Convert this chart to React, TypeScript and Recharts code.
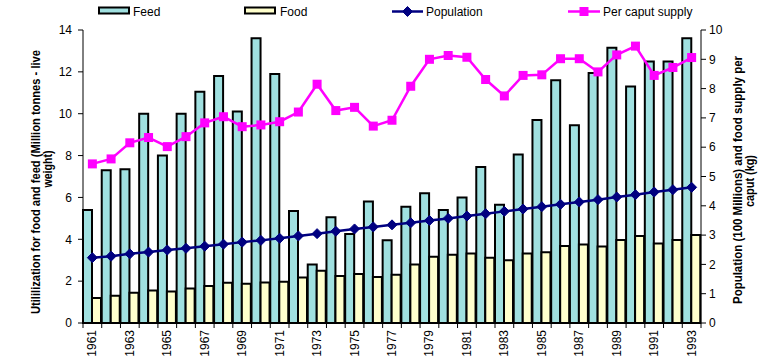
import React from 'react';
import { Bar, ComposedChart, Line, XAxis, YAxis } from 'recharts';

const years = [
  '1961', '1962', '1963', '1964', '1965', '1966', '1967', '1968', '1969', '1970', '1971',
  '1972', '1973', '1974', '1975', '1976', '1977', '1978', '1979', '1980', '1981', '1982',
  '1983', '1984', '1985', '1986', '1987', '1988', '1989', '1990', '1991', '1992', '1993',
];

// million tonnes, left axis
const feed = [
  5.4, 7.3, 7.35, 10.0, 8.0, 10.0, 11.05, 11.8, 10.1, 13.6, 11.9,
  5.35, 2.8, 5.05, 4.25, 5.8, 3.95, 5.55, 6.2, 5.4, 6.0, 7.45,
  5.65, 8.05, 9.7, 11.6, 9.45, 11.95, 13.15, 11.3, 12.5, 12.5, 13.6,
];
const food = [
  1.2, 1.3, 1.45, 1.55, 1.5, 1.65, 1.77, 1.92, 1.88, 1.93, 1.97,
  2.17, 2.5, 2.25, 2.34, 2.2, 2.3, 2.8, 3.17, 3.26, 3.32, 3.12,
  3.0, 3.32, 3.38, 3.68, 3.75, 3.65, 3.97, 4.16, 3.8, 3.97, 4.2,
];

// right axis
const population = [
  2.23, 2.28, 2.36, 2.42, 2.49, 2.55, 2.62, 2.69, 2.76, 2.82, 2.89,
  2.97, 3.05, 3.13, 3.21, 3.28, 3.35, 3.42, 3.5, 3.57, 3.65, 3.73,
  3.81, 3.89, 3.97, 4.05, 4.13, 4.21, 4.3, 4.38, 4.47, 4.55, 4.63,
];
const perCaput = [
  5.43, 5.6, 6.15, 6.33, 6.02, 6.36, 6.83, 7.04, 6.7, 6.76, 6.87,
  7.2, 8.15, 7.25, 7.36, 6.72, 6.92, 8.08, 9.0, 9.13, 9.07, 8.31,
  7.75, 8.45, 8.47, 9.02, 9.02, 8.57, 9.15, 9.45, 8.45, 8.72, 9.06,
];

const leftTicks = [0, 2, 4, 6, 8, 10, 12, 14];
const rightTicks = [0, 1, 2, 3, 4, 5, 6, 7, 8, 9, 10];

const data = years.map((year, i) => ({
  year,
  feed: feed[i],
  food: food[i],
  population: population[i],
  perCaput: perCaput[i],
}));

const W = 759;
const H = 364;
const LEFT_W = 83;
const RIGHT_W = 58;
const TOP = 30;
const X_H = 41;
const FONT = "'Liberation Sans', Arial, sans-serif";

const half = (W - LEFT_W - RIGHT_W) / years.length / 2;

const YearTick = (props: any) => {
  const { x, y, payload } = props;
  const idx = years.indexOf(payload.value);
  return (
    <g>
      <line x1={x - half} x2={x - half} y1={y} y2={y + 5} stroke="#000" />
      {idx === years.length - 1 && <line x1={x + half} x2={x + half} y1={y} y2={y + 5} stroke="#000" />}
      {idx % 2 === 0 && (
        <text
          x={x + 4}
          y={y + 7}
          transform={`rotate(-90, ${x + 4}, ${y + 7})`}
          textAnchor="end"
          fontSize={12}
          fontFamily={FONT}
          fill="#000"
        >
          {payload.value}
        </text>
      )}
    </g>
  );
};

const Diamond = (props: any) => {
  const { cx, cy, index } = props;
  if (cx == null || cy == null) return <g key={`pd${index}`} />;
  return (
    <path
      key={`pd${index}`}
      d={`M${cx},${cy - 5}L${cx + 5},${cy}L${cx},${cy + 5}L${cx - 5},${cy}Z`}
      fill="#000080"
      stroke="#000080"
    />
  );
};

const Square = (props: any) => {
  const { cx, cy, index } = props;
  if (cx == null || cy == null) return <g key={`sq${index}`} />;
  return <rect key={`sq${index}`} x={cx - 4.5} y={cy - 4.5} width={9} height={9} fill="#FF00FF" />;
};

const Overlay = () => (
  <svg width={W} height={H} style={{ position: 'absolute', left: 0, top: 0, pointerEvents: 'none' }}>
    <g fontFamily={FONT} fontSize={12} fill="#000">
      <rect x={99} y={7.5} width={30} height={6} fill="#A0E0E0" stroke="#000" strokeWidth={2} />
      <text x={133} y={15.5}>Feed</text>
      <rect x={245} y={7.5} width={30} height={6} fill="#FFFFCC" stroke="#000" strokeWidth={2} />
      <text x={280} y={15.5}>Food</text>
      <line x1={392} x2={423} y1={11.5} y2={11.5} stroke="#000080" strokeWidth={2.5} />
      <Diamond cx={407.5} cy={11.5} index="legend" />
      <text x={426} y={15.5}>Population</text>
      <line x1={568} x2={600} y1={11.5} y2={11.5} stroke="#FF00FF" strokeWidth={2.5} />
      <Square cx={584} cy={11.5} index="legend" />
      <text x={603} y={15.5}>Per caput supply</text>
    </g>
    <g fontFamily={FONT} fontSize={12} fontWeight="bold" fill="#000" textAnchor="middle">
      <text
        x={39.5}
        y={182}
        transform="rotate(-90, 39.5, 182)"
        textLength={264}
        lengthAdjust="spacingAndGlyphs"
      >
        Utililization for food and feed (Million tonnes - live
      </text>
      <text x={51.5} y={169} transform="rotate(-90, 51.5, 169)" textLength={37} lengthAdjust="spacingAndGlyphs">
        weight)
      </text>
      <text
        x={741.5}
        y={180}
        transform="rotate(-90, 741.5, 180)"
        textLength={248}
        lengthAdjust="spacingAndGlyphs"
      >
        Population (100 Millions) and food supply per
      </text>
      <text x={753.5} y={181} transform="rotate(-90, 753.5, 181)" textLength={52} lengthAdjust="spacingAndGlyphs">
        caput (kg)
      </text>
    </g>
  </svg>
);

export default () => {
  return (
    <div style={{ position: 'absolute', left: 0, top: 0, width: W, height: H, background: '#fff' }}>
      <ComposedChart
        width={W}
        height={H}
        data={data}
        margin={{ top: TOP, right: 0, bottom: 0, left: 0 }}
        barCategoryGap={0}
        barGap={0}
      >
        <XAxis
          dataKey="year"
          interval={0}
          height={X_H}
          tickLine={false}
          tickSize={0}
          tickMargin={0}
          axisLine={{ stroke: '#000' }}
          tick={<YearTick />}
        />
        <YAxis
          yAxisId="left"
          width={LEFT_W}
          domain={[0, 14]}
          ticks={leftTicks}
          tickSize={5}
          tickMargin={6}
          axisLine={{ stroke: '#000' }}
          tickLine={{ stroke: '#000' }}
          tick={{ fill: '#000', fontSize: 12, fontFamily: FONT }}
        />
        <YAxis
          yAxisId="right"
          orientation="right"
          width={RIGHT_W}
          domain={[0, 10]}
          ticks={rightTicks}
          tickSize={5}
          tickMargin={3}
          axisLine={{ stroke: '#000' }}
          tickLine={{ stroke: '#000' }}
          tick={{ fill: '#000', fontSize: 12, fontFamily: FONT }}
        />
        <Bar yAxisId="left" dataKey="feed" fill="#A0E0E0" stroke="#000" strokeWidth={2} isAnimationActive={false} />
        <Bar yAxisId="left" dataKey="food" fill="#FFFFCC" stroke="#000" strokeWidth={2} isAnimationActive={false} />
        <Line
          yAxisId="right"
          type="linear"
          dataKey="population"
          stroke="#000080"
          strokeWidth={2.5}
          dot={Diamond}
          activeDot={false}
          isAnimationActive={false}
        />
        <Line
          yAxisId="right"
          type="linear"
          dataKey="perCaput"
          stroke="#FF00FF"
          strokeWidth={2.5}
          dot={Square}
          activeDot={false}
          isAnimationActive={false}
        />
      </ComposedChart>
      <Overlay />
    </div>
  );
};
